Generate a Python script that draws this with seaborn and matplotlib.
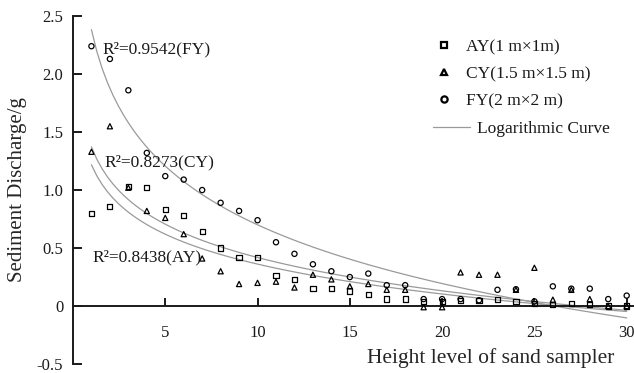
import numpy as np
import pandas as pd
import matplotlib
matplotlib.use("Agg")
import matplotlib.pyplot as plt
import seaborn as sns
from matplotlib.lines import Line2D

# ---- data ----
height = list(range(1, 31))
ay = [0.80, 0.86, 1.03, 1.02, 0.83, 0.78, 0.64, 0.50, 0.42, 0.42,
      0.26, 0.23, 0.15, 0.15, 0.13, 0.10, 0.06, 0.06, 0.04, 0.04,
      0.05, 0.05, 0.055, 0.04, 0.02, 0.01, 0.02, 0.01, 0.00, 0.00]
cy = [1.33, 1.55, 1.02, 0.82, 0.76, 0.62, 0.41, 0.30, 0.19, 0.20,
      0.21, 0.16, 0.27, 0.23, 0.17, 0.19, 0.14, 0.14, -0.01, -0.01,
      0.29, 0.27, 0.27, 0.14, 0.33, 0.055, 0.14, 0.06, 0.00, 0.00]
fy = [2.24, 2.13, 1.86, 1.32, 1.12, 1.09, 1.00, 0.89, 0.82, 0.74,
      0.55, 0.45, 0.36, 0.30, 0.25, 0.28, 0.18, 0.18, 0.06, 0.06,
      0.06, 0.05, 0.14, 0.145, 0.04, 0.17, 0.15, 0.15, 0.06, 0.09]
series_labels = ["AY(1 m\u00d71m)", "CY(1.5 m\u00d71.5 m)", "FY(2 m\u00d72 m)"]
curve_label = "Logarithmic Curve"
r2_text = ["R\u00b2=0.8438(AY)", "R\u00b2=0.8273(CY)", "R\u00b2=0.9542(FY)"]
r2_pos = [(1.05, 0.42), (1.73, 1.24), (1.60, 2.21)]
x_ticks = [5, 10, 15, 20, 25, 30]
y_ticks = [-0.5, 0, 0.5, 1.0, 1.5, 2.0, 2.5]
y_ticklabels = ["-0.5", "0", "0.5", "1.0", "1.5", "2.0", "2.5"]
xlabel = "Height level of sand sampler"
ylabel = "Sediment Discharge/g"

df = pd.DataFrame({"h": height * 3,
                   "v": ay + cy + fy,
                   "s": sum([[lab] * len(height) for lab in series_labels], [])})

sns.set_style("ticks")
plt.rcParams["font.family"] = ["Liberation Serif", "DejaVu Serif"]
plt.rcParams["text.color"] = "#1a1a1a"

fig = plt.figure(figsize=(6.34, 3.73), dpi=100)
ax = fig.add_axes([0.1151, 0.024, 0.885, 0.933])

markers = {series_labels[0]: "s", series_labels[1]: "^", series_labels[2]: "o"}
for lab, vals in zip(series_labels, [ay, cy, fy]):
    sns.regplot(x=height, y=vals, logx=True, scatter=False, ci=None,
                truncate=True, color="#9a9a9a", line_kws={"lw": 0.9}, ax=ax)
for lab in series_labels:
    sub = df[df["s"] == lab]
    sns.scatterplot(data=sub, x="h", y="v", marker=markers[lab], s=14,
                    facecolor="none", edgecolor="black", linewidth=0.9,
                    ax=ax, legend=False, zorder=3)

for t, (x, y) in zip(r2_text, r2_pos):
    ax.text(x, y, t, fontsize=12.5, ha="left", va="center", color="#1a1a1a")

ax.set_xlim(0, 30.4)
ax.set_ylim(-0.5, 2.5)
ax.set_xticks(x_ticks)
ax.set_yticks(y_ticks)
ax.set_yticklabels(y_ticklabels)
ax.spines["top"].set_visible(False)
ax.spines["right"].set_visible(False)
ax.spines["bottom"].set_position(("data", 0))
for sp in ["left", "bottom"]:
    ax.spines[sp].set_linewidth(1.4)
    ax.spines[sp].set_color("#1a1a1a")
ax.tick_params(axis="y", direction="in", length=6.5, width=1.4, pad=7,
               labelsize=12, colors="#1a1a1a")
ax.tick_params(axis="x", direction="in", length=6, width=1.4, pad=14,
               labelsize=12, colors="#1a1a1a")
ax.set_xlabel(xlabel, fontsize=15.5, va="center")
ax.xaxis.set_label_coords(0.745, 0.016)
ax.set_ylabel(ylabel, fontsize=15)
ax.yaxis.set_label_coords(-0.082, 0.5)

marker_handles = [Line2D([], [], ls="none", marker=markers[l], ms=4.5, mfc="none",
                         mec="black", mew=1.6) for l in series_labels]
leg1 = ax.legend(marker_handles, series_labels, loc="upper left",
                 bbox_to_anchor=(0.6440, 0.934), frameon=False, fontsize=12.5,
                 handlelength=1.1, handletextpad=0.72, labelspacing=0.63,
                 borderaxespad=0, borderpad=0)
ax.add_artist(leg1)
line_handle = [Line2D([], [], color="#9a9a9a", lw=0.9)]
ax.legend(line_handle, [curve_label], loc="upper left",
          bbox_to_anchor=(0.6417, 0.6975), frameon=False, fontsize=12.5,
          handlelength=2.13, handletextpad=0.4, borderaxespad=0, borderpad=0)

fig.savefig("out.png", dpi=100)
